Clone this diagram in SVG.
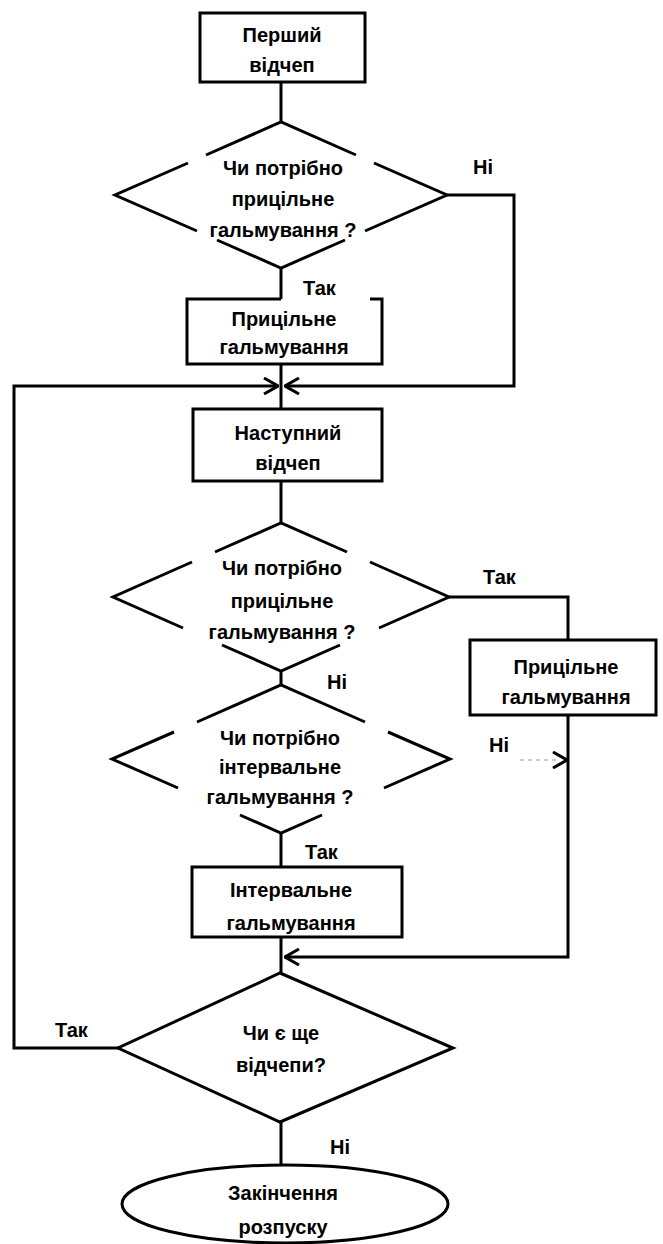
<svg xmlns="http://www.w3.org/2000/svg" width="663" height="1244" viewBox="0 0 663 1244">
<style>
.shape{fill:none;stroke:#000;stroke-width:3;stroke-linejoin:miter}
.box{fill:#fff;stroke:#000;stroke-width:3}
.conn{fill:none;stroke:#000;stroke-width:3}
.faint{fill:none;stroke:#bbb;stroke-width:1.5;stroke-dasharray:4 4}
text{font-family:"Liberation Sans",Arial,sans-serif;font-weight:bold;font-size:20px;fill:#000}
.c{text-anchor:middle}
</style>
<defs>
<marker id="arr" viewBox="0 0 16 18" refX="15" refY="9" markerWidth="16" markerHeight="18" markerUnits="userSpaceOnUse" orient="auto">
<path d="M1,1 L15,9 L1,17" fill="none" stroke="#000" stroke-width="3"/>
</marker>
</defs>
<rect width="663" height="1244" fill="#fff"/>
<g id="connectors">
<path class="conn" d="M281,82 V122"/>
<path class="conn" d="M281,268 V299"/>
<path class="conn" d="M447,195 H514 V386 H285" marker-end="url(#arr)"/>
<path class="conn" d="M281,364 V409"/>
<path class="conn" d="M118,1048 H14 V386 H278" marker-end="url(#arr)"/>
<path class="conn" d="M281,481 V523"/>
<path class="conn" d="M449,597 H568 V640"/>
<path class="conn" d="M281,671 V685"/>
<path class="conn" d="M281,833 V867"/>
<path class="conn" d="M568,715 V957 H285" marker-end="url(#arr)"/>
<path class="faint" d="M520,760 H556"/>
<path class="conn" stroke-opacity="0" d="M556,760 H567" marker-end="url(#arr)"/>
<path class="conn" d="M281,937 V973"/>
<path class="conn" d="M281,1122 V1165"/>
<text x="473" y="174">Ні</text>
<text x="303" y="295">Так</text>
<text x="483" y="584">Так</text>
<text x="327" y="689">Ні</text>
<text x="489" y="752">Ні</text>
<text x="305" y="859">Так</text>
<text x="55" y="1037">Так</text>
<text x="330" y="1154">Ні</text>
</g>
<g id="start">
<rect class="box" x="200" y="13" width="165" height="69"/>
<text class="c" x="282" y="42">Перший</text>
<text class="c" x="282" y="72">відчеп</text>
</g>
<g id="decision1">
<polyline class="shape" points="206,155 281,122 356,155"/>
<polyline class="shape" points="188,163 115,195 197,231"/>
<polyline class="shape" points="374,163 447,195 365,231"/>
<polyline class="shape" points="217,240 281,268 345,240"/>
<text class="c" x="283" y="175">Чи потрібно</text>
<text class="c" x="283" y="206">прицільне</text>
<text class="c" x="283" y="237">гальмування ?</text>
</g>
<g id="aimed1">
<path class="shape" d="M281,299 H187 V364 H382 V299 H370"/>
<text class="c" x="284" y="326">Прицільне</text>
<text class="c" x="284" y="354">гальмування</text>
</g>
<g id="next">
<rect class="box" x="193" y="409" width="189" height="72"/>
<text class="c" x="288" y="440">Наступний</text>
<text class="c" x="288" y="470">відчеп</text>
</g>
<g id="decision2">
<polyline class="shape" points="215,552 281,523 347,552"/>
<polyline class="shape" points="192,562 113,597 183,628"/>
<polyline class="shape" points="370,562 449,597 379,628"/>
<polyline class="shape" points="222,645 281,671 340,645"/>
<text class="c" x="282" y="575">Чи потрібно</text>
<text class="c" x="282" y="608">прицільне</text>
<text class="c" x="282" y="639">гальмування ?</text>
</g>
<g id="aimed2">
<rect class="box" x="470" y="640" width="186" height="75"/>
<text class="c" x="566" y="674">Прицільне</text>
<text class="c" x="566" y="704">гальмування</text>
</g>
<g id="decision3">
<polyline class="shape" points="197,722 281,685 365,722"/>
<polyline class="shape" points="174,732 112,759 178,788"/>
<polyline class="shape" points="388,732 450,759 384,788"/>
<polyline class="shape" points="240,815 281,833 322,815"/>
<text class="c" x="280" y="745">Чи потрібно</text>
<text class="c" x="280" y="774">інтервальне</text>
<text class="c" x="280" y="804">гальмування ?</text>
</g>
<g id="interval">
<rect class="box" x="192" y="867" width="210" height="70"/>
<text class="c" x="291" y="897">Інтервальне</text>
<text class="c" x="291" y="930">гальмування</text>
</g>
<g id="decision4">
<polygon class="shape" points="280,973 453,1048 280,1122 118,1048"/>
<text class="c" x="281" y="1040">Чи є ще</text>
<text class="c" x="281" y="1072">відчепи?</text>
</g>
<g id="end">
<ellipse class="box" cx="285" cy="1204" rx="163" ry="39"/>
<text class="c" x="283" y="1200">Закінчення</text>
<text class="c" x="283" y="1234">розпуску</text>
</g>
</svg>
